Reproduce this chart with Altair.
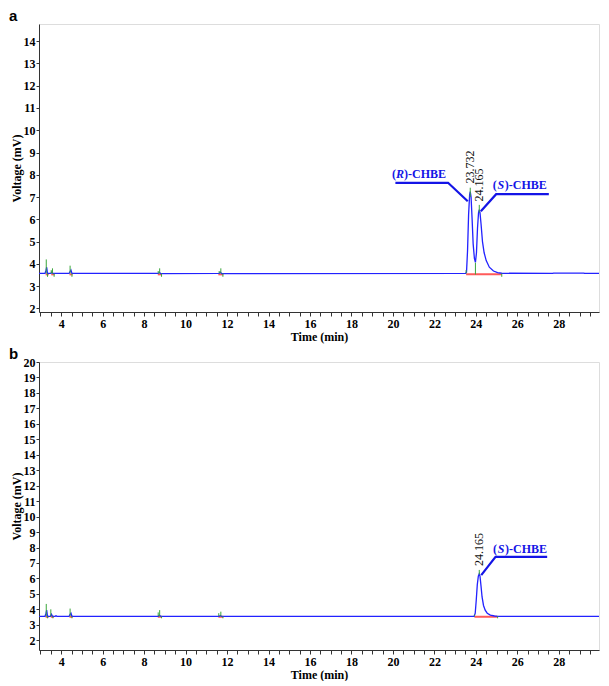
import altair as alt
import pandas as pd

SERIF = "Liberation Serif"
SANS = "Liberation Sans"

X_DOMAIN = [2.93, 29.94]
x_tick_values = [3.0, 3.5, 4.0, 4.5, 5.0, 5.5, 6.0, 6.5, 7.0, 7.5, 8.0, 8.5, 9.0, 9.5,
                 10.0, 10.5, 11.0, 11.5, 12.0, 12.5, 13.0, 13.5, 14.0, 14.5, 15.0, 15.5,
                 16.0, 16.5, 17.0, 17.5, 18.0, 18.5, 19.0, 19.5, 20.0, 20.5, 21.0, 21.5,
                 22.0, 22.5, 23.0, 23.5, 24.0, 24.5, 25.0, 25.5, 26.0, 26.5, 27.0, 27.5,
                 28.0, 28.5, 29.0, 29.5]

# ---------------- panel a ----------------
a_y_domain = [1.84, 14.77]
a_y_ticks = [2, 3, 4, 5, 6, 7, 8, 9, 10, 11, 12, 13, 14]
a_time = [2.93, 3.22, 3.27, 3.30, 3.34, 3.50, 3.55, 3.60, 4.38, 4.43, 4.47, 4.52,
          8.68, 8.74, 8.80, 11.62, 11.68, 11.74, 23.50, 23.55, 23.60, 23.65, 23.70,
          23.73, 23.77, 23.82, 23.87, 23.93, 23.98, 24.03, 24.08, 24.13, 24.165, 24.20,
          24.25, 24.32, 24.40, 24.50, 24.65, 24.85, 25.05, 25.25, 27.70, 27.75, 29.20,
          29.25, 29.94]
a_mv = [3.57, 3.57, 3.72, 3.85, 3.57, 3.57, 3.63, 3.57, 3.57, 3.66, 3.72, 3.57,
        3.57, 3.62, 3.56, 3.57, 3.63, 3.56, 3.57, 3.62, 4.6, 6.2, 7.1,
        7.24, 7.0, 6.0, 4.9, 4.25, 4.07, 4.5, 5.6, 6.3, 6.43, 6.3,
        5.8, 5.0, 4.5, 4.15, 3.85, 3.68, 3.61, 3.58, 3.57, 3.585, 3.585,
        3.57, 3.57]
a_green_t = [3.28, 3.34, 3.52, 3.58, 3.66, 4.43, 4.52, 8.68, 8.75, 8.84, 11.62, 11.70,
             11.80, 23.53, 23.73, 23.98, 24.165, 25.25]
a_green_y1 = [3.57, 3.57, 3.57, 3.57, 3.57, 3.57, 3.57, 3.57, 3.57, 3.57, 3.57, 3.57,
              3.57, 3.57, 7.0, 3.52, 6.3, 3.57]
a_green_y2 = [4.20, 3.42, 3.72, 3.80, 3.42, 3.92, 3.42, 3.68, 3.80, 3.42, 3.68, 3.80,
              3.42, 3.72, 7.42, 4.05, 6.65, 3.42]
a_red_t1 = [3.25, 3.52, 4.40, 8.66, 11.58, 23.53]
a_red_t2 = [3.40, 3.68, 4.55, 8.86, 11.82, 25.25]
a_red_y = [3.53, 3.53, 3.53, 3.53, 3.53, 3.53]
a_peak_t = [23.71, 24.17]
a_peak_v = [7.61, 6.80]
a_peak_text = ["23.732", "24.165"]
a_name_t = [19.96, 24.82]
a_name_v = [8.05, 7.53]
a_name_letter = ["R", "S"]
a_lead_t = [20.12, 22.66, 23.61, 27.52, 24.98, 24.24]
a_lead_v = [7.64, 7.64, 6.81, 7.13, 7.13, 6.36]
a_lead_grp = ["R", "R", "R", "S", "S", "S"]

# ---------------- panel b ----------------
b_y_domain = [1.37, 20.0]
b_y_ticks = [2, 3, 4, 5, 6, 7, 8, 9, 10, 11, 12, 13, 14, 15, 16, 17, 18, 19, 20]
b_time = [2.93, 3.22, 3.27, 3.30, 3.34, 3.48, 3.53, 3.58, 3.70, 3.75, 3.80, 4.38,
          4.43, 4.47, 4.52, 8.68, 8.74, 8.80, 11.62, 11.68, 11.74, 23.92, 23.97, 24.02,
          24.07, 24.12, 24.165, 24.20, 24.25, 24.30, 24.37, 24.45, 24.55, 24.70, 24.90,
          25.05, 29.94]
b_mv = [3.55, 3.55, 3.75, 3.95, 3.55, 3.55, 3.68, 3.55, 3.55, 3.58, 3.55, 3.55,
        3.68, 3.75, 3.55, 3.55, 3.62, 3.54, 3.55, 3.60, 3.54, 3.55, 3.75, 4.6,
        5.6, 6.15, 6.30, 6.15, 5.5, 4.8, 4.25, 3.95, 3.75, 3.63, 3.57,
        3.55, 3.55]
b_green_t = [3.28, 3.34, 3.50, 3.60, 4.43, 4.52, 8.68, 8.75, 8.84, 11.60, 11.70, 11.80,
             23.93, 24.165, 25.05]
b_green_y1 = [3.55, 3.55, 3.55, 3.55, 3.55, 3.55, 3.55, 3.55, 3.55, 3.55, 3.55, 3.55,
              3.55, 6.25, 3.55]
b_green_y2 = [4.35, 3.42, 4.00, 3.42, 4.05, 3.42, 3.80, 3.95, 3.42, 3.75, 3.85, 3.42,
              3.65, 6.55, 3.42]
b_red_t1 = [3.25, 3.50, 4.40, 8.66, 11.58, 23.93]
b_red_t2 = [3.40, 3.65, 4.55, 8.86, 11.82, 25.05]
b_red_y = [3.52, 3.52, 3.52, 3.52, 3.52, 3.52]
b_peak_t = [24.15]
b_peak_v = [6.80]
b_peak_text = ["24.165"]
b_name_t = [24.83]
b_name_v = [7.90]
b_name_letter = ["S"]
b_lead_t = [27.44, 24.95, 24.26]
b_lead_v = [7.39, 7.39, 6.21]
b_lead_grp = ["S", "S", "S"]

BLUE = "#2222ff"
ANNO_BLUE = "#1414e6"
GREEN = "#3aa63a"
RED = "#ff5a5a"


def panel(label, time, mv, g_t, g_y1, g_y2, r_t1, r_t2, r_y, pk_t, pk_v, pk_txt,
          nm_t, nm_v, nm_letter, ld_t, ld_v, ld_grp, y_dom, y_ticks):
    xs = alt.Scale(domain=X_DOMAIN, nice=False, zero=False)
    ys = alt.Scale(domain=y_dom, nice=False, zero=False)
    xax = alt.Axis(values=x_tick_values, title="Time (min)", grid=False, tickSize=4,
                   labelExpr="datum.value % 2 === 0 ? format(datum.value, 'd') : ''",
                   labelOverlap=False, labelFlush=False, labelPadding=2, titlePadding=2,
                   labelFont=SERIF, labelFontWeight="bold", labelFontSize=12,
                   labelColor="black", titleFont=SERIF, titleFontWeight="bold",
                   titleFontSize=12, titleColor="black", domainColor="#333",
                   tickColor="#333")
    yax = alt.Axis(values=y_ticks, title="Voltage (mV)", grid=False, tickSize=3,
                   labelOverlap=False, labelFlush=False, labelPadding=1, titlePadding=0,
                   labelFont=SERIF, labelFontWeight="bold", labelFontSize=12,
                   labelColor="black", titleFont=SERIF, titleFontWeight="bold",
                   titleFontSize=12, titleColor="black", domainColor="#333",
                   tickColor="#333")

    def X(f):
        return alt.X(f, scale=xs, axis=xax)

    def Y(f):
        return alt.Y(f, scale=ys, axis=yax)

    trace_df = pd.DataFrame({"t": time, "v": mv})
    green_df = pd.DataFrame({"t": g_t, "y1": g_y1, "y2": g_y2})
    red_df = pd.DataFrame({"t1": r_t1, "t2": r_t2, "y": r_y})
    peak_df = pd.DataFrame({"t": pk_t, "v": pk_v, "txt": pk_txt})
    name_df = pd.DataFrame({"t": nm_t, "v": nm_v, "letter": nm_letter})
    lead_df = pd.DataFrame({"t": ld_t, "v": ld_v, "grp": ld_grp,
                            "ord": list(range(len(ld_t)))})
    lab_df = pd.DataFrame({"lab": [label]})

    red = alt.Chart(red_df).mark_rule(color=RED, strokeWidth=2, clip=True).encode(
        x=X("t1:Q"), x2="t2:Q", y=Y("y:Q"))
    trace = alt.Chart(trace_df).mark_line(color=BLUE, strokeWidth=1.3, clip=True).encode(
        x=X("t:Q"), y=Y("v:Q"))
    green = alt.Chart(green_df).mark_rule(color=GREEN, strokeWidth=1, clip=True).encode(
        x=X("t:Q"), y=Y("y1:Q"), y2="y2:Q")
    lead = alt.Chart(lead_df).mark_line(color=ANNO_BLUE, strokeWidth=2.2).encode(
        x=X("t:Q"), y=Y("v:Q"), detail="grp:N", order="ord:Q")
    peaks = alt.Chart(peak_df).mark_text(angle=270, align="left", baseline="middle",
                                         font=SERIF, fontSize=12, color="#111").encode(
        x=X("t:Q"), y=Y("v:Q"), text="txt:N")
    name_base = alt.Chart(name_df).encode(x=X("t:Q"), y=Y("v:Q"))
    open_p = name_base.mark_text(align="left", baseline="middle", font=SERIF, fontSize=12,
                                 fontWeight="bold", color=ANNO_BLUE, text="(")
    letter = name_base.mark_text(align="center", baseline="middle", font=SERIF,
                                 fontSize=12, fontWeight="bold", fontStyle="italic",
                                 color=ANNO_BLUE, dx=8).encode(text="letter:N")
    rest = name_base.mark_text(align="left", baseline="middle", font=SERIF, fontSize=12,
                               fontWeight="bold", color=ANNO_BLUE, dx=12, text=")-CHBE")
    tag = alt.Chart(lab_df).mark_text(align="left", baseline="alphabetic", font=SANS,
                                      fontSize=15, fontWeight="bold", color="black").encode(
        x=alt.value(-30), y=alt.value(-3), text="lab:N")

    return alt.layer(red, trace, green, lead, peaks, open_p, letter, rest, tag).properties(
        width=560, height=288)


top = panel("a", a_time, a_mv, a_green_t, a_green_y1, a_green_y2, a_red_t1, a_red_t2,
            a_red_y, a_peak_t, a_peak_v, a_peak_text, a_name_t, a_name_v, a_name_letter,
            a_lead_t, a_lead_v, a_lead_grp, a_y_domain, a_y_ticks)
bottom = panel("b", b_time, b_mv, b_green_t, b_green_y1, b_green_y2, b_red_t1, b_red_t2,
               b_red_y, b_peak_t, b_peak_v, b_peak_text, b_name_t, b_name_v,
               b_name_letter, b_lead_t, b_lead_v, b_lead_grp, b_y_domain, b_y_ticks)

chart = alt.vconcat(top, bottom, spacing=3).properties(
    padding={"left": 0, "top": 0, "right": 0, "bottom": 0}
).configure_view(stroke="#333", strokeWidth=1).configure(background="white")

chart.save("out.html", embed_options={"renderer": "svg", "actions": False})
